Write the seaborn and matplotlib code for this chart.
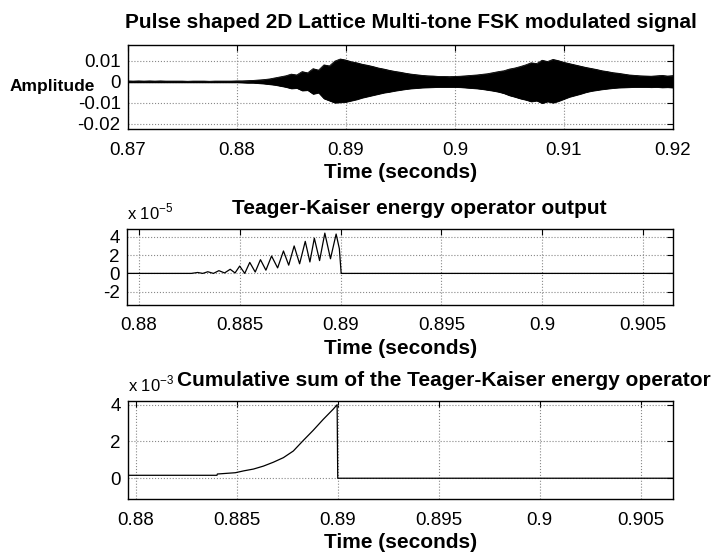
import matplotlib
matplotlib.use("Agg")
import matplotlib.pyplot as plt
import seaborn as sns
import pandas as pd
import numpy as np

# ---- top: FSK signal, envelope read every 0.5 ms (units of 1e-3) ----
sig_t0, sig_dt = 0.870, 0.0005
sig_upper = [0.4, 0.3, 0.4, 0.3, 0.4, 0.3, 0.4, 0.3, 0.3, 0.3,
             0.3, 0.2, 0.3, 0.3, 0.3, 0.2, 0.3, 0.3, 0.3, 0.3,
             0.4, 0.4, 0.5, 0.6, 0.8, 1.0, 1.3, 1.8, 2.3, 2.8,
             3.6, 3.2, 4.8, 4.2, 6.2, 5.5, 8.0, 7.5, 9.8, 10.8,
             10.3, 9.5, 9.0, 8.3, 7.8, 7.2, 6.5, 6.0, 5.4, 4.9,
             4.5, 4.0, 3.6, 3.3, 3.0, 2.8, 2.7, 2.5, 2.5, 2.4,
             2.5, 2.6, 2.8, 3.0, 3.2, 3.5, 3.8, 4.3, 4.8, 5.2,
             6.0, 6.5, 7.2, 8.0, 9.0, 8.6, 10.2, 9.6, 10.6, 10.0,
             9.2, 8.6, 8.0, 7.4, 6.8, 6.3, 5.8, 5.2, 4.8, 4.3,
             4.0, 3.6, 3.2, 3.0, 2.8, 2.7, 2.6, 2.8, 3.0, 2.7, 2.9]
sig_lower = [-0.3, -0.3, -0.3, -0.3, -0.3, -0.3, -0.3, -0.3, -0.3, -0.3,
             -0.3, -0.3, -0.3, -0.3, -0.3, -0.3, -0.3, -0.3, -0.3, -0.3,
             -0.3, -0.4, -0.5, -0.5, -0.7, -0.9, -1.2, -1.5, -2.0, -2.5,
             -3.2, -3.0, -4.2, -4.0, -5.8, -5.2, -8.0, -9.0, -10.0, -9.8,
             -9.6, -9.0, -8.4, -7.6, -7.0, -6.4, -5.8, -5.2, -4.8, -4.3,
             -3.9, -3.5, -3.2, -3.0, -2.8, -2.7, -2.6, -2.5, -2.5, -2.5,
             -2.5, -2.6, -2.8, -3.0, -3.2, -3.5, -3.9, -4.3, -4.8, -5.5,
             -6.5, -7.2, -8.0, -8.6, -9.4, -9.0, -10.2, -9.4, -10.0, -9.2,
             -8.2, -7.2, -6.5, -5.8, -5.0, -4.4, -4.0, -3.6, -3.3, -3.0,
             -2.8, -2.7, -2.6, -2.5, -2.5, -2.5, -2.6, -2.5, -2.7, -2.6, -2.8]

# ---- middle: Teager-Kaiser output, peaks/troughs (units of 1e-5) ----
teo_t = [0.870, 0.8826, 0.88292, 0.88317, 0.88342, 0.8837, 0.88397, 0.88425,
         0.88453, 0.88477, 0.88500, 0.88525, 0.88550, 0.88577, 0.88603,
         0.8863, 0.88658, 0.88688, 0.88717, 0.88743, 0.88770, 0.88797,
         0.88825, 0.88848, 0.88870, 0.88896, 0.88922, 0.8895, 0.88978,
         0.88994, 0.89003, 0.920]
teo_val = [0.0, 0.0, 0.1, 0.0, 0.18, 0.0, 0.3, 0.05,
           0.45, 0.05, 0.8, 0.0, 1.2, 0.15, 1.5,
           0.35, 1.9, 0.6, 2.45, 0.9, 3.0, 1.05,
           3.5, 1.25, 3.85, 1.4, 4.4, 1.6, 4.3,
           2.7, 0.0, 0.0]

# ---- bottom: cumulative sum (units of 1e-3) ----
cum_t = [0.870, 0.88402, 0.88404, 0.88493, 0.88534, 0.88583, 0.88632, 0.88681,
         0.88731, 0.88780, 0.88829, 0.88878, 0.88928, 0.88977, 0.88997,
         0.89000, 0.920]
cum_val = [0.16, 0.16, 0.23, 0.3, 0.4, 0.5, 0.66, 0.87,
           1.12, 1.48, 2.05, 2.6, 3.2, 3.75, 4.0,
           0.0, 0.0]

sns.set_style("white")
plt.rcParams['font.family'] = ['Liberation Sans', 'DejaVu Sans']
plt.rcParams['mathtext.fontset'] = 'custom'
plt.rcParams['mathtext.rm'] = 'Liberation Sans'
plt.rcParams['text.color'] = 'black'
plt.rcParams['axes.labelcolor'] = 'black'

TICK = 13.5
TITLE = 15

fig = plt.figure(figsize=(7.19, 5.52), dpi=100)
ax1 = fig.add_axes([0.1776, 0.7663, 0.7584, 0.1527])
ax2 = fig.add_axes([0.1762, 0.4475, 0.7605, 0.1368])
ax3 = fig.add_axes([0.1776, 0.0960, 0.7584, 0.1775])


def style(ax):
    ax.grid(True, color='#888888', linestyle=':', linewidth=0.8)
    for s in ax.spines.values():
        s.set_color('black')
        s.set_linewidth(1.0)
    ax.tick_params(direction='in', length=4, width=0.8, top=True, right=True,
                   labelsize=TICK, colors='black')
    ax.tick_params(axis='x', pad=9)
    ax.tick_params(axis='y', pad=5)
    ax.set_xlabel('Time (seconds)', fontsize=TITLE, fontweight='bold', labelpad=3)


def fmt(v, pos):
    return '%g' % round(v, 6)


# top
sig_t = sig_t0 + sig_dt * np.arange(len(sig_upper))
ax1.fill_between(sig_t, np.array(sig_lower) * 1e-3, np.array(sig_upper) * 1e-3,
                 color='black', linewidth=0.6)
ax1.plot(sig_t, np.array(sig_upper) * 1e-3, color='black', lw=0.6)
ax1.plot(sig_t, np.array(sig_lower) * 1e-3, color='black', lw=0.6)
ax1.set_xlim(0.87, 0.92)
ax1.set_ylim(-0.0225, 0.0176)
ax1.set_xticks([0.87, 0.88, 0.89, 0.90, 0.91, 0.92])
ax1.set_yticks([-0.02, -0.01, 0, 0.01])
ax1.xaxis.set_major_formatter(plt.FuncFormatter(fmt))
ax1.yaxis.set_major_formatter(plt.FuncFormatter(fmt))
style(ax1)
ax1.set_ylabel('Amplitude', rotation=0, fontsize=12.5, fontweight='bold',
               ha='right', va='center')
ax1.yaxis.set_label_coords(-0.06, 0.5)
ax1.set_title('Pulse shaped 2D Lattice Multi-tone FSK modulated signal',
              fontsize=TITLE, fontweight='bold', pad=12, x=0.52)

# middle
df_teo = pd.DataFrame({'t': teo_t, 'v': teo_val})
sns.lineplot(data=df_teo, x='t', y='v', ax=ax2, color='black', lw=0.9,
             estimator=None, sort=False)
ax2.set_xlim(0.8794, 0.9065)
ax2.set_ylim(-3.45, 4.8)
ax2.set_xticks([0.88, 0.885, 0.89, 0.895, 0.90, 0.905])
ax2.set_yticks([-2, 0, 2, 4])
ax2.xaxis.set_major_formatter(plt.FuncFormatter(fmt))
ax2.yaxis.set_major_formatter(plt.FuncFormatter(fmt))
style(ax2)
ax2.set_ylabel('')
ax2.set_title('Teager-Kaiser energy operator output',
              fontsize=TITLE, fontweight='bold', pad=11, x=0.535)
ax2.text(0.0, 1.09, r'x 10$^{-5}$', transform=ax2.transAxes, fontsize=12,
         ha='left', va='bottom')

# bottom
df_cum = pd.DataFrame({'t': cum_t, 'v': cum_val})
sns.lineplot(data=df_cum, x='t', y='v', ax=ax3, color='black', lw=0.9,
             estimator=None, sort=False)
ax3.set_xlim(0.8796, 0.9066)
ax3.set_ylim(-1.13, 4.2)
ax3.set_xticks([0.88, 0.885, 0.89, 0.895, 0.90, 0.905])
ax3.set_yticks([0, 2, 4])
ax3.xaxis.set_major_formatter(plt.FuncFormatter(fmt))
ax3.yaxis.set_major_formatter(plt.FuncFormatter(fmt))
style(ax3)
ax3.set_ylabel('')
ax3.set_title('Cumulative sum of the Teager-Kaiser energy operator',
              fontsize=TITLE, fontweight='bold', pad=11, x=0.58)
ax3.text(0.0, 1.07, r'x 10$^{-3}$', transform=ax3.transAxes, fontsize=12,
         ha='left', va='bottom')

fig.savefig('out.png', dpi=100)
